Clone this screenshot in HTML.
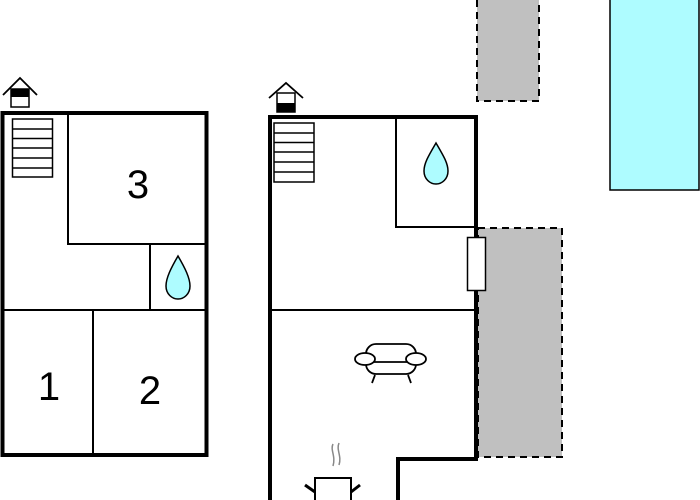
<!DOCTYPE html>
<html><head><meta charset="utf-8"><style>html,body{margin:0;padding:0;background:#fff}svg{display:block}</style></head>
<body>
<svg width="700" height="500" viewBox="0 0 700 500" xmlns="http://www.w3.org/2000/svg" font-family="Liberation Sans, sans-serif">
<!-- gray areas -->
<rect x="477" y="-5" width="62" height="106" fill="#c0c0c0" stroke="#000" stroke-width="2" stroke-dasharray="7,5"/>
<rect x="478" y="228" width="84" height="229" fill="#c0c0c0" stroke="#000" stroke-width="2" stroke-dasharray="7,5"/>
<rect x="610" y="-5" width="89" height="195" fill="#aefcff" stroke="#000" stroke-width="1.5"/>

<!-- left plan -->
<rect x="2.5" y="113" width="204" height="342" fill="#fff" stroke="#000" stroke-width="4"/>
<polyline points="68,114 68,244 205,244" fill="none" stroke="#000" stroke-width="2"/>
<line x1="150" y1="244" x2="150" y2="310" stroke="#000" stroke-width="2"/>
<line x1="3" y1="310" x2="205" y2="310" stroke="#000" stroke-width="2"/>
<line x1="93" y1="310" x2="93" y2="455" stroke="#000" stroke-width="2"/>
<text x="138" y="198" font-size="40" text-anchor="middle">3</text>
<text x="49" y="400" font-size="40" text-anchor="middle">1</text>
<text x="150" y="404" font-size="40" text-anchor="middle">2</text>
<g stroke="#000" stroke-width="1.5" fill="#fff">
<rect x="12.5" y="119" width="40" height="58"/>
<line x1="12.5" y1="129" x2="52.5" y2="129"/><line x1="12.5" y1="138.5" x2="52.5" y2="138.5"/><line x1="12.5" y1="148" x2="52.5" y2="148"/><line x1="12.5" y1="158" x2="52.5" y2="158"/><line x1="12.5" y1="168" x2="52.5" y2="168"/>
</g>
<path d="M178,256 C171,268 166,278 166,286 C166,294 172,299 178,299 C184,299 190,294 190,286 C190,278 185,268 178,256 Z" fill="#aefcff" stroke="#000" stroke-width="1.5"/>
<!-- house icon left -->
<polyline points="3,95 20,78 37,95" fill="none" stroke="#000" stroke-width="1.8"/>
<rect x="11" y="89" width="18" height="18" fill="#fff" stroke="#000" stroke-width="1.5"/>
<rect x="11" y="89" width="18" height="8" fill="#000"/>

<!-- right plan -->
<polyline points="270,500 270,117 476,117 476,459 398,459 398,500" fill="#fff" stroke="#000" stroke-width="4"/>
<polyline points="396,118 396,227 476,227" fill="none" stroke="#000" stroke-width="2"/>
<line x1="271" y1="310" x2="475" y2="310" stroke="#000" stroke-width="2"/>
<rect x="467.5" y="237.5" width="18" height="53" fill="#fff" stroke="#000" stroke-width="1.5"/>
<g stroke="#000" stroke-width="1.5" fill="#fff">
<rect x="274" y="123" width="40" height="59"/>
<line x1="274" y1="133" x2="314" y2="133"/><line x1="274" y1="142.5" x2="314" y2="142.5"/><line x1="274" y1="152" x2="314" y2="152"/><line x1="274" y1="162" x2="314" y2="162"/><line x1="274" y1="172" x2="314" y2="172"/>
</g>
<path d="M436,143 C429,155 424,163 424,171 C424,179 430,184 436,184 C442,184 448,179 448,171 C448,163 443,155 436,143 Z" fill="#aefcff" stroke="#000" stroke-width="1.5"/>
<!-- house icon right -->
<polyline points="269,98 286,83 303,98" fill="none" stroke="#000" stroke-width="1.8"/>
<rect x="277" y="93" width="18" height="19" fill="#fff" stroke="#000" stroke-width="1.5"/>
<rect x="277" y="103" width="18" height="9" fill="#000"/>
<!-- sofa -->
<g stroke="#000" stroke-width="1.8" fill="#fff">
<rect x="366" y="344" width="50" height="30" rx="10"/>
<line x1="371" y1="362" x2="411" y2="362"/>
<ellipse cx="365" cy="359" rx="10" ry="6"/>
<ellipse cx="416" cy="359" rx="10" ry="6"/>
<line x1="375" y1="375" x2="372" y2="383"/><line x1="408" y1="375" x2="411" y2="383"/>
</g>
<!-- stove -->
<g stroke="#888" stroke-width="1.5" fill="none">
<path d="M333,444 C330,450 336,456 333,466"/><path d="M339,443 C336,450 342,456 339,465"/>
</g>
<rect x="315" y="478" width="36" height="30" fill="#fff" stroke="#000" stroke-width="2"/>
<line x1="305" y1="485" x2="315" y2="492" stroke="#000" stroke-width="3"/>
<line x1="360" y1="485" x2="351" y2="492" stroke="#000" stroke-width="3"/>
</svg>
</body></html>
